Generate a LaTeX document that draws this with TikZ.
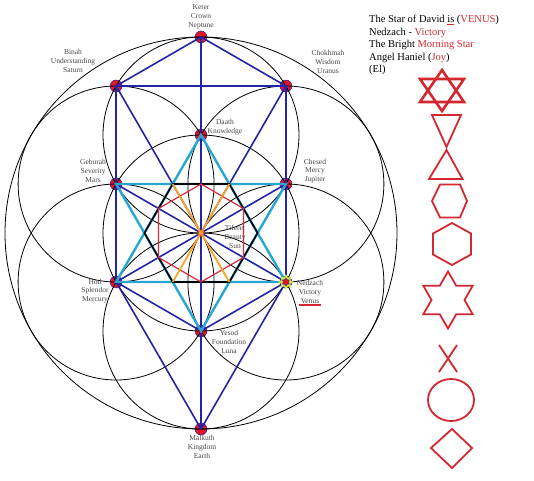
\documentclass[tikz,border=0pt]{standalone}
\usepackage{fontspec}
\setmainfont{Liberation Serif}
\usetikzlibrary{shapes.geometric}

\definecolor{dotred}{RGB}{228,22,38}
\definecolor{navy}{RGB}{35,35,165}
\definecolor{sky}{RGB}{38,166,210}
\definecolor{hexred}{RGB}{225,40,55}
\definecolor{amber}{RGB}{247,165,40}
\definecolor{venusred}{RGB}{212,40,48}
\definecolor{lime}{RGB}{200,235,70}
\definecolor{labelgray}{RGB}{70,70,70}

\begin{document}
\begin{tikzpicture}[x=100pt,y=-100pt]
    \tikzstyle{sephira}=[circle,fill=dotred,draw=navy,line width=0.5pt,inner sep=0pt,minimum size=12pt]
    \tikzstyle{sephlabel}=[align=center,inner sep=0pt,text=labelgray,font=\fontsize{7.5}{8.7}\selectfont]
    \tikzstyle{ring}=[black,line width=0.8pt]
    \tikzstyle{navyline}=[navy,line width=1.6pt]
    \tikzstyle{skyline}=[sky,line width=2.4pt]
    \tikzstyle{glyph}=[venusred,line width=1.8pt]

    \useasboundingbox (0,0) rectangle (5.34,4.80);

    % the sephiroth
    \node (keter) at (2.01,0.37) [sephira] {};
    \node (binah) at (1.161,0.86) [sephira] {};
    \node (chokhmah) at (2.859,0.86) [sephira] {};
    \node (daath) at (2.01,1.35) [sephira] {};
    \node (geburah) at (1.161,1.84) [sephira] {};
    \node (chesed) at (2.859,1.84) [sephira] {};
    \node (tiferet) at (2.01,2.33) [inner sep=0pt] {};
    \node (hod) at (1.161,2.82) [sephira] {};
    \node (netzach) at (2.859,2.82) [sephira] {};
    \node (yesod) at (2.01,3.31) [sephira] {};
    \node (malkuth) at (2.01,4.29) [sephira] {};

    % circles
    \draw [ring] (tiferet) circle (1.96);
    \foreach \s in {daath,geburah,chesed,tiferet,hod,netzach,yesod}
        \draw [ring] (\s) circle (0.98);

    % paths of the tree
    \draw [navyline] (keter.center) -- (binah.center) -- (chokhmah.center) -- cycle;
    \draw [navyline] (keter.center) -- (malkuth.center);
    \draw [navyline] (binah.center) -- (hod.center);
    \draw [navyline] (chokhmah.center) -- (netzach.center);
    \draw [navyline] (binah.center) -- (tiferet.center) -- (chokhmah.center);
    \draw [navyline] (geburah.center) -- (netzach.center);
    \draw [navyline] (chesed.center) -- (hod.center);
    \draw [navyline] (hod.center) -- (yesod.center) -- (netzach.center);
    \draw [navyline] (hod.center) -- (malkuth.center) -- (netzach.center);

    % star of david
    \draw [skyline] (daath.center) -- (hod.center) -- (netzach.center) -- cycle;
    \draw [skyline] (geburah.center) -- (chesed.center) -- (yesod.center) -- cycle;

    % hexagons and cross round tiferet
    \draw [black,line width=1.6pt,shift={(tiferet)}] (0:0.566) -- (60:0.566) -- (120:0.566) -- (180:0.566) -- (240:0.566) -- (300:0.566) -- cycle;
    \draw [hexred,line width=1.2pt,shift={(tiferet)}] (30:0.49) -- (90:0.49) -- (150:0.49) -- (210:0.49) -- (270:0.49) -- (330:0.49) -- cycle;
    \draw [amber,line width=1.8pt,shift={(tiferet)}] (60:0.566) -- (240:0.566) (120:0.566) -- (300:0.566);
    \node (sunmark) at (tiferet) [star,star points=6,fill=amber,draw=hexred,line width=0.4pt,inner sep=0pt,minimum size=7pt] {};

    % venus
    \node (venusburst) at (netzach) [star,star points=8,star point ratio=1.7,fill=lime,inner sep=0pt,minimum size=16pt] {};
    \node (venusstar) at (netzach) [star,star points=6,fill=dotred,draw=navy,line width=0.3pt,inner sep=0pt,minimum size=8pt] {};

    % names
    \node (keterlabel) at (2.01,0.17) [sephlabel] {Keter\\Crown\\Neptune};
    \node (binahlabel) at (0.73,0.61) [sephlabel] {Binah\\Understanding\\Saturn};
    \node (chokhmahlabel) at (3.28,0.62) [sephlabel] {Chokhmah\\Wisdom\\Uranus};
    \node (daathlabel) at (2.25,1.27) [sephlabel] {Daath\\Knowledge};
    \node (geburahlabel) at (0.93,1.71) [sephlabel] {Geburah\\Severity\\Mars};
    \node (chesedlabel) at (3.15,1.71) [sephlabel] {Chesed\\Mercy\\Jupiter};
    \node (tiferetlabel) at (2.35,2.37) [sephlabel] {Tiferet\\Beauty\\Sun};
    \node (hodlabel) at (0.95,2.91) [sephlabel] {Hod\\Splendor\\Mercury};
    \node (netzachlabel) at (3.10,2.92) [sephlabel] {Nedzach\\Victory\\Venus};
    \node (yesodlabel) at (2.29,3.42) [sephlabel] {Yesod\\Foundation\\Luna};
    \node (malkuthlabel) at (2.02,4.47) [sephlabel] {Malkuth\\Kingdom\\Earth};
    \draw [venusred,line width=1.4pt] ([xshift=-11pt,yshift=-1.5pt]netzachlabel.south) -- ([xshift=11pt,yshift=-1.5pt]netzachlabel.south);

    % the text on the right
    \node (venustext) at (3.69,0.15) [anchor=north west,align=left,inner sep=0pt,font=\fontsize{10.5}{12.6}\selectfont] {The Star of David {\color{venusred}\underline{\color{black}is}} ({\color{venusred}VENUS})\\Nedzach - {\color{venusred}Victory}\\The Bright {\color{venusred}Morning Star}\\Angel Haniel ({\color{venusred}Joy})\\(El)};

    % the glyphs
    \draw [glyph,line width=2.6pt] (4.42,0.70) -- (4.20,1.02) -- (4.64,1.02) -- cycle;
    \draw [glyph,line width=2.6pt] (4.42,1.11) -- (4.20,0.79) -- (4.64,0.79) -- cycle;
    \draw [glyph] (4.32,1.15) -- (4.61,1.15) -- (4.465,1.47) -- cycle;
    \draw [glyph] (4.465,1.50) -- (4.29,1.79) -- (4.625,1.79) -- cycle;
    \draw [glyph] (4.32,2.01) -- (4.40,1.845) -- (4.60,1.845) -- (4.67,2.01) -- (4.60,2.175) -- (4.40,2.175) -- cycle;
    \draw [glyph] (4.52,2.23) -- (4.71,2.335) -- (4.71,2.545) -- (4.52,2.65) -- (4.33,2.545) -- (4.33,2.335) -- cycle;
    \draw [glyph,shift={(4.48,3.00)}] (-90:0.285) -- (-60:0.165) -- (-30:0.285) -- (0:0.165) -- (30:0.285) -- (60:0.165) -- (90:0.285) -- (120:0.165) -- (150:0.285) -- (180:0.165) -- (210:0.285) -- (240:0.165) -- cycle;
    \draw [glyph] (4.39,3.45) -- (4.57,3.72) (4.57,3.45) -- (4.39,3.72);
    \draw [glyph] (4.51,4.00) ellipse (0.23 and 0.21);
    \draw [glyph] (4.52,4.29) -- (4.72,4.48) -- (4.52,4.68) -- (4.31,4.48) -- cycle;
\end{tikzpicture}
\end{document}
